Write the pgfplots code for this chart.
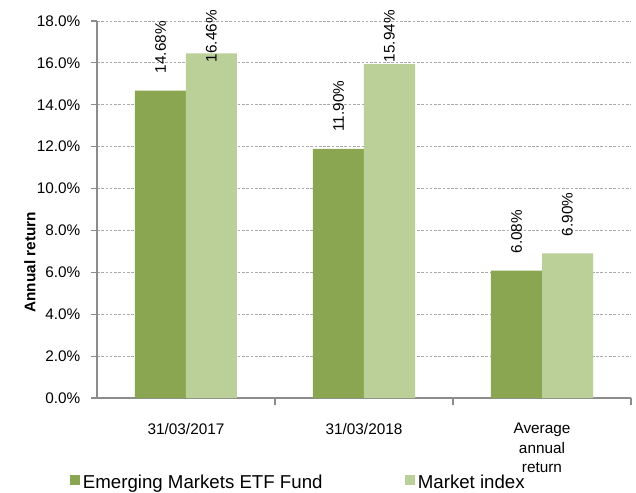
\documentclass[border=0pt]{standalone}
\usepackage{pgfplots}
\pgfplotsset{compat=1.18}
\usepackage{fontspec}
\setmainfont{Liberation Sans}
\definecolor{darkg}{RGB}{139,166,80}
\definecolor{lightg}{RGB}{187,207,153}
\definecolor{axgray}{RGB}{140,140,140}
\definecolor{gridgray}{RGB}{170,170,170}
\begin{document}
\begin{tikzpicture}
\clip (-72.75pt,-71.25pt) rectangle (404.25pt,298.5pt);
\begin{axis}[
  at={(0pt,0pt)}, anchor=south west,
  scale only axis, width=400.5pt, height=282.75pt,
  xmin=-0.5, xmax=2.5, ymin=0, ymax=18,
  clip=false,
  axis x line*=bottom, axis y line*=left,
  x axis line style={draw=axgray, line width=0.9pt, -},
  y axis line style={draw=axgray, line width=1.4pt, -},
  tick align=outside,
  major tick length=4.5pt, minor tick length=5.25pt,
  xtick={0,1,2},
  xticklabels={31/03/2017, 31/03/2018, {Average\\annual\\return}},
  xtick style={draw=none},
  minor xtick={0.5,1.5,2.5},
  minor x tick style={draw=axgray, line width=0.8pt},
  ytick={0,2,...,18},
  ytick style={draw=axgray, line width=0.8pt},
  yticklabel={\pgfmathprintnumber[fixed,fixed zerofill,precision=1]{\tick}\%},
  /pgf/number format/assume math mode=true,
  yticklabel style={font=\fontsize{11.5}{13.8}\selectfont, xshift=-4.5pt},
  xticklabel style={font=\fontsize{11.5}{14.5}\selectfont, align=center, yshift=-11pt},
  ymajorgrids,
  grid style={gridgray, line width=0.6pt, dash pattern=on 2pt off 1.2pt},
  ylabel={Annual return},
  ylabel style={font=\fontsize{11.5}{13.8}\selectfont\bfseries, at={(axis description cs:-0.1255,0.36)}, anchor=center, rotate=0},
  legend style={draw=none, fill=none, inner sep=0pt, at={(axis description cs:-0.0506,-0.224)}, anchor=west, font=\fontsize{14}{16}\selectfont, legend columns=2, /tikz/every even column/.append style={column sep=60pt}},
  legend image code/.code={\fill[#1] (0pt,-2pt) rectangle (7.5pt,5.5pt);},
]
\addplot[ybar, bar width=38.25pt, bar shift=-19.125pt, fill=darkg, draw=none] coordinates {(0,14.68) (1,11.90) (2,6.08)};
\addlegendentry{Emerging Markets ETF Fund}
\addplot[ybar, bar width=38.25pt, bar shift=19.125pt, fill=lightg, draw=none] coordinates {(0,16.46) (1,15.94) (2,6.90)};
\addlegendentry{Market index}
% value labels (normal placement above bar)
\addplot[draw=none, mark=none, forget plot, nodes near coords, point meta=explicit symbolic,
  nodes near coords style={rotate=90, anchor=west, inner sep=0pt, text=black, font=\fontsize{11.5}{13.8}\selectfont}]
  coordinates {(-0.143,15.49) [14.68\%] (0.857,12.71) [11.90\%] (1.857,6.89) [6.08\%] (2.143,7.71) [6.90\%]};
% value labels (clamped at top)
\addplot[draw=none, mark=none, forget plot, nodes near coords, point meta=explicit symbolic,
  nodes near coords style={rotate=90, anchor=east, inner sep=0pt, text=black, font=\fontsize{11.5}{13.8}\selectfont}]
  coordinates {(0.143,18.53) [16.46\%] (1.143,18.53) [15.94\%]};
\end{axis}
\end{tikzpicture}
\end{document}
